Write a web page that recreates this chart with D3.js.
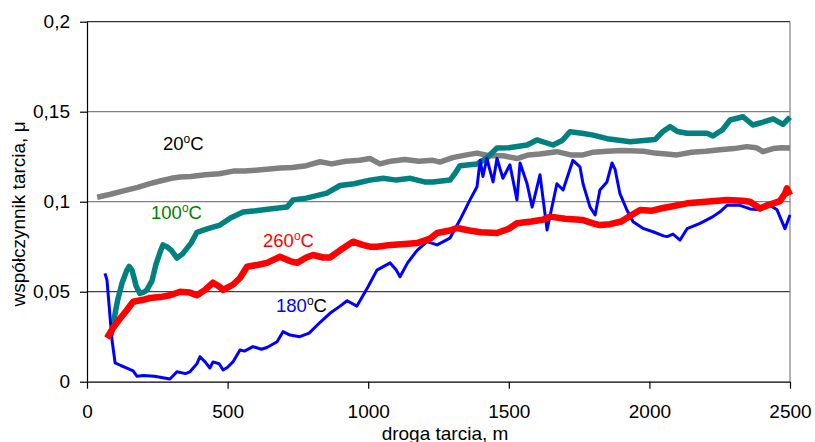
<!DOCTYPE html>
<html>
<head>
<meta charset="utf-8">
<script src="https://cdn.jsdelivr.net/npm/d3@7"></script>
<style>
  html, body { margin: 0; padding: 0; background: #fff; }
  svg { display: block; font-family: "Liberation Sans", Arial, sans-serif; }
</style>
</head>
<body>
<svg id="chart" width="815" height="442"></svg>
<script>
// ---- data (distance in m, friction coefficient) ----
const xTicks = [0, 500, 1000, 1500, 2000, 2500];
const yTicks = [0, 0.05, 0.1, 0.15, 0.2];
const yTickLabels = ["0", "0,05", "0,1", "0,15", "0,2"];

const series20 = [[36,0.1025],[80,0.104],[130,0.106],[180,0.108],[224,0.110],[260,0.1115],[300,0.113],[331,0.1137],[370,0.114],[420,0.115],[470,0.1155],[520,0.117],[560,0.117],[600,0.1175],[640,0.118],[686,0.1187],[730,0.119],[780,0.120],[829,0.1222],[870,0.121],[920,0.1225],[970,0.123],[1006,0.124],[1042,0.121],[1080,0.1225],[1130,0.1235],[1180,0.1225],[1230,0.123],[1255,0.122],[1300,0.1245],[1350,0.126],[1387,0.127],[1430,0.1255],[1480,0.1255],[1529,0.124],[1570,0.126],[1610,0.1265],[1671,0.1278],[1720,0.126],[1764,0.126],[1800,0.1275],[1850,0.128],[1900,0.1285],[1931,0.1283],[1980,0.128],[2020,0.127],[2098,0.126],[2150,0.1275],[2200,0.128],[2260,0.129],[2300,0.1295],[2347,0.1306],[2380,0.13],[2404,0.1278],[2440,0.1295],[2470,0.130],[2500,0.1298]];

const series100 = [[85,0.026],[92,0.03],[100,0.038],[110,0.046],[125,0.055],[142,0.062],[150,0.064],[160,0.062],[175,0.053],[188,0.049],[205,0.050],[213,0.051],[231,0.056],[245,0.065],[260,0.072],[270,0.076],[284,0.075],[300,0.073],[320,0.0687],[340,0.071],[370,0.077],[391,0.083],[430,0.085],[473,0.087],[510,0.091],[555,0.0943],[600,0.095],[650,0.096],[711,0.097],[733,0.101],[780,0.102],[853,0.1048],[900,0.109],[950,0.110],[1006,0.112],[1053,0.113],[1100,0.112],[1150,0.113],[1200,0.111],[1230,0.111],[1291,0.112],[1310,0.116],[1326,0.120],[1387,0.121],[1420,0.124],[1458,0.1298],[1500,0.130],[1565,0.1315],[1600,0.1343],[1657,0.1315],[1690,0.134],[1718,0.1389],[1760,0.138],[1800,0.137],[1850,0.135],[1885,0.1343],[1931,0.1333],[1980,0.134],[2020,0.1345],[2048,0.139],[2073,0.1417],[2100,0.139],[2134,0.138],[2205,0.138],[2226,0.1365],[2260,0.14],[2287,0.1454],[2333,0.1472],[2368,0.1426],[2400,0.144],[2440,0.146],[2475,0.143],[2500,0.147]];

const series260 = [[71,0.0243],[82,0.027],[92,0.0298],[117,0.035],[142,0.0398],[164,0.0444],[200,0.0455],[224,0.0465],[260,0.047],[295,0.048],[331,0.05],[366,0.0495],[391,0.048],[420,0.051],[448,0.055],[473,0.0526],[484,0.051],[520,0.054],[544,0.0576],[569,0.0639],[610,0.065],[640,0.066],[686,0.0694],[722,0.067],[747,0.066],[780,0.069],[804,0.0704],[840,0.069],[864,0.069],[900,0.073],[946,0.0778],[980,0.076],[1006,0.075],[1031,0.075],[1080,0.076],[1130,0.0765],[1174,0.077],[1220,0.0795],[1245,0.0826],[1290,0.084],[1316,0.0854],[1360,0.084],[1400,0.083],[1458,0.0826],[1500,0.085],[1529,0.088],[1580,0.089],[1620,0.090],[1647,0.0917],[1700,0.0905],[1764,0.0898],[1800,0.088],[1824,0.087],[1860,0.0875],[1900,0.089],[1931,0.092],[1967,0.0954],[2010,0.095],[2048,0.0965],[2073,0.0972],[2134,0.0991],[2200,0.100],[2276,0.101],[2330,0.1005],[2358,0.1],[2393,0.0963],[2430,0.0985],[2464,0.1003],[2482,0.1045],[2489,0.1074],[2500,0.1037]];

const series180 = [[64,0.0602],[71,0.0565],[89,0.023],[100,0.0104],[120,0.009],[142,0.0076],[164,0.006],[178,0.003],[200,0.0035],[240,0.003],[260,0.0025],[295,0.0015],[320,0.0055],[350,0.0045],[366,0.0055],[391,0.010],[402,0.0139],[420,0.011],[437,0.0076],[448,0.011],[470,0.010],[484,0.0065],[500,0.008],[519,0.011],[544,0.0176],[560,0.017],[590,0.0195],[620,0.018],[640,0.019],[676,0.0222],[697,0.0278],[722,0.0259],[757,0.025],[790,0.027],[829,0.033],[864,0.038],[900,0.042],[925,0.045],[960,0.042],[999,0.0526],[1031,0.062],[1078,0.066],[1100,0.062],[1113,0.0583],[1140,0.066],[1174,0.073],[1209,0.0778],[1245,0.076],[1291,0.0798],[1326,0.0898],[1362,0.101],[1387,0.1083],[1398,0.123],[1408,0.114],[1422,0.124],[1444,0.111],[1458,0.124],[1479,0.113],[1504,0.1205],[1529,0.101],[1540,0.1215],[1565,0.110],[1583,0.097],[1611,0.115],[1636,0.0843],[1671,0.110],[1693,0.1065],[1728,0.123],[1753,0.1194],[1764,0.110],[1789,0.097],[1807,0.0926],[1824,0.1065],[1849,0.111],[1867,0.1215],[1878,0.118],[1895,0.1046],[1920,0.0954],[1942,0.0889],[1977,0.0852],[2013,0.0833],[2050,0.081],[2063,0.0806],[2084,0.082],[2109,0.0787],[2134,0.085],[2180,0.088],[2226,0.0917],[2251,0.0944],[2276,0.098],[2322,0.098],[2358,0.096],[2393,0.0955],[2418,0.099],[2454,0.0955],[2482,0.085],[2500,0.0926]];

// ---- layout ----
const svg = d3.select("#chart");
const pLeft = 87, pRight = 790, pTop = 21.7, pBottom = 381.7;
const x = d3.scaleLinear().domain([0, 2500]).range([pLeft, pRight]);
const y = d3.scaleLinear().domain([0, 0.2]).range([pBottom, pTop]);
const font = 19;

// gridlines
svg.append("g").selectAll("line")
  .data(yTicks.filter(v => v > 0 && v < 0.2))
  .join("line")
  .attr("x1", pLeft).attr("x2", pRight)
  .attr("y1", d => y(d)).attr("y2", d => y(d))
  .attr("stroke", d => d === 0.05 ? "#404040" : "#808080")
  .attr("stroke-width", 1.2);

// top & right border
svg.append("line").attr("x1", pLeft).attr("x2", pRight).attr("y1", y(0.2)).attr("y2", y(0.2))
  .attr("stroke", "#000").attr("stroke-width", 1);
svg.append("line").attr("x1", pRight).attr("x2", pRight).attr("y1", y(0.2)).attr("y2", y(0))
  .attr("stroke", "#808080").attr("stroke-width", 1.2);

// series lines
const line = d3.line().x(d => x(d[0])).y(d => y(d[1])).curve(d3.curveLinear);
const plot = svg.append("g");
plot.append("path").datum(series20).attr("d", line).attr("fill", "none")
  .attr("stroke", "#808080").attr("stroke-width", 5.5).attr("stroke-linejoin", "round");
plot.append("path").datum(series100).attr("d", line).attr("fill", "none")
  .attr("stroke", "#008080").attr("stroke-width", 5.5).attr("stroke-linejoin", "round");
plot.append("path").datum(series180).attr("d", line).attr("fill", "none")
  .attr("stroke", "#0000FF").attr("stroke-width", 3).attr("stroke-linejoin", "round");
plot.append("path").datum(series260).attr("d", line).attr("fill", "none")
  .attr("stroke", "#FF0000").attr("stroke-width", 6.5).attr("stroke-linejoin", "round");

// axes
const xAxis = d3.axisBottom(x).tickValues(xTicks).tickSize(7).tickPadding(16).tickFormat(d3.format("d"));
const gx = svg.append("g").attr("transform", `translate(0,${pBottom})`).call(xAxis);
const yAxis = d3.axisLeft(y).tickValues(yTicks).tickSize(7).tickPadding(10)
  .tickFormat((d, i) => yTickLabels[i]);
const gy = svg.append("g").attr("transform", `translate(${pLeft},0)`).call(yAxis);
[gx, gy].forEach(g => {
  g.select(".domain").attr("stroke", "#000").attr("stroke-width", 1.2);
  g.selectAll(".tick line").attr("stroke", "#000").attr("stroke-width", 1.2);
  g.selectAll(".tick text").attr("font-size", font).attr("fill", "#000")
    .attr("font-family", '"Liberation Sans", Arial, sans-serif');
});
gx.select(".domain").attr("d", `M${pLeft},0.5H${pRight}`);
gy.select(".domain").attr("d", `M0.5,${pTop}V${pBottom}`);

// axis titles
svg.append("text").attr("x", 445).attr("y", 440).attr("text-anchor", "middle")
  .attr("font-size", font).text("droga tarcia, m");
svg.append("text").attr("transform", "translate(25,214) rotate(-90)").attr("text-anchor", "middle")
  .attr("font-size", font).text("współczynnik tarcia, μ");

// series labels
function label(px, py, num, numColor, restColor) {
  const t = svg.append("text").attr("x", px).attr("y", py).attr("font-size", 18.5);
  t.append("tspan").attr("fill", numColor).text(num);
  t.append("tspan").attr("fill", restColor).attr("font-size", 12).attr("dy", -7).text("o");
  t.append("tspan").attr("fill", restColor).attr("dy", 7).text("C");
}
label(163, 150, "20", "#000", "#000");
label(151, 219, "100", "#008000", "#008000");
label(263, 247, "260", "#FF0000", "#FF0000");
label(276, 312, "180", "#0000FF", "#000");
</script>
</body>
</html>
